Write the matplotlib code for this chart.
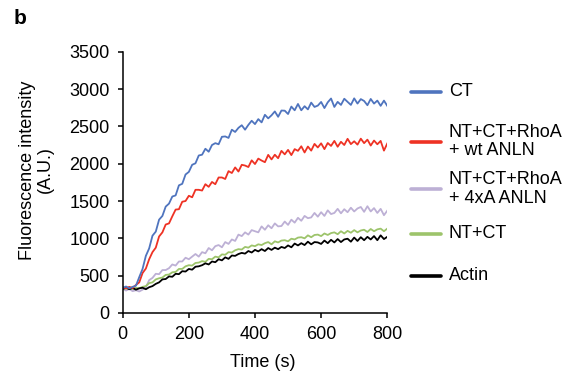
import numpy as np
import matplotlib
matplotlib.use('Agg')
import matplotlib.pyplot as plt
from matplotlib.lines import Line2D

plt.rcParams['font.family'] = ['Liberation Sans', 'DejaVu Sans']

# time points (s), one reading every 10 s
time = np.arange(0, 801, 10)

ct = [335, 355, 330, 350, 365, 480, 590, 765, 865, 1035,
      1090, 1250, 1300, 1425, 1465, 1560, 1575, 1710, 1730, 1855,
      1890, 1985, 2005, 2110, 2120, 2200, 2160, 2250, 2275, 2260,
      2360, 2365, 2345, 2455, 2425, 2480, 2515, 2455, 2520, 2575,
      2530, 2597, 2553, 2655, 2607, 2648, 2700, 2628, 2712, 2710,
      2665, 2765, 2715, 2800, 2715, 2770, 2727, 2818, 2760, 2778,
      2827, 2745, 2822, 2873, 2760, 2828, 2787, 2870, 2828, 2787,
      2875, 2805, 2865, 2840, 2783, 2867, 2805, 2845, 2775, 2845,
      2775]

wt_anln = [345, 330, 350, 335, 375, 410, 535, 595, 720, 815,
           875, 1025, 1080, 1185, 1200, 1295, 1385, 1390, 1490, 1500,
           1570, 1550, 1650, 1650, 1640, 1725, 1690, 1755, 1725, 1815,
           1815, 1795, 1900, 1875, 1950, 1895, 1985, 1975, 1955, 2045,
           1995, 2068, 2042, 2020, 2118, 2057, 2120, 2073, 2172, 2125,
           2185, 2115, 2195, 2172, 2233, 2150, 2230, 2175, 2265, 2217,
           2273, 2195, 2277, 2238, 2305, 2227, 2293, 2250, 2333, 2262,
           2300, 2255, 2335, 2275, 2322, 2243, 2310, 2260, 2305, 2175,
           2270]

xa_anln = [325, 300, 322, 292, 305, 288, 312, 345, 440, 470,
           525, 520, 575, 575, 600, 650, 635, 690, 690, 740,
           720, 755, 790, 755, 815, 800, 870, 840, 895, 910,
           880, 950, 925, 985, 965, 1050, 1030, 1080, 1050, 1110,
           1095, 1080, 1160, 1115, 1175, 1135, 1200, 1160, 1165, 1225,
           1180, 1250, 1210, 1275, 1235, 1300, 1270, 1280, 1340, 1290,
           1350, 1300, 1375, 1325, 1340, 1395, 1335, 1390, 1350, 1410,
           1360, 1400, 1420, 1355, 1430, 1360, 1405, 1340, 1395, 1310,
           1370]

nt_ct = [335, 325, 338, 322, 336, 330, 350, 360, 400, 410,
         450, 465, 475, 510, 515, 545, 550, 590, 590, 625,
         640, 635, 670, 675, 695, 685, 725, 720, 755, 745,
         785, 780, 815, 810, 840, 855, 850, 885, 875, 905,
         895, 920, 910, 935, 950, 920, 960, 945, 970, 975,
         960, 995, 985, 1010, 1015, 1000, 1040, 1015, 1045, 1050,
         1030, 1065, 1045, 1070, 1080, 1055, 1095, 1065, 1100, 1075,
         1110, 1080, 1105, 1115, 1085, 1125, 1095, 1120, 1130, 1095,
         1130]

actin = [320, 340, 318, 335, 312, 330, 338, 318, 345, 360,
         390, 410, 450, 455, 490, 485, 525, 520, 560, 555,
         590, 580, 620, 625, 640, 665, 650, 690, 680, 720,
         705, 745, 725, 770, 765, 790, 805, 795, 830, 810,
         845, 825, 855, 830, 870, 845, 875, 855, 885, 870,
         905, 880, 930, 905, 935, 910, 955, 920, 950, 945,
         925, 970, 935, 980, 945, 990, 950, 985, 995, 955,
         1010, 965, 1015, 975, 1020, 985, 1030, 975, 1040, 990,
         1020]

names = ['CT', 'NT+CT+RhoA\n+ wt ANLN', 'NT+CT+RhoA\n+ 4xA ANLN', 'NT+CT', 'Actin']
colors = ['#4F74BE', '#EE3224', '#BDB0D5', '#9DC46B', '#000000']
series = [ct, wt_anln, xa_anln, nt_ct, actin]

fig = plt.figure(figsize=(5.78, 3.76), dpi=100)
ax = fig.add_axes([0.2123, 0.1676, 0.4577, 0.6949])

# draw the low curves first, CT last so it sits on top
for idx in [2, 3, 4, 1, 0]:
    ax.plot(time, series[idx], color=colors[idx], lw=1.3)

ax.set_xlim(0, 800)
ax.set_ylim(0, 3500)
ax.set_xticks([0, 200, 400, 600, 800])
ax.set_yticks(range(0, 3501, 500))
for side in ['top', 'right']:
    ax.spines[side].set_visible(False)
for side in ['left', 'bottom']:
    ax.spines[side].set_linewidth(1.1)
ax.tick_params(direction='out', length=3.5, width=1.1, pad=6, labelsize=13)

fig.text(0.455, 0.037, 'Time (s)', ha='center', va='center', fontsize=13)
fig.text(0.063, 0.548, 'Fluorescence intensity\n(A.U.)', ha='center', va='center',
         rotation=90, fontsize=13, linespacing=1.1)
fig.text(0.024, 0.952, 'b', ha='left', va='center', fontsize=15, fontweight='bold')

# legend drawn by hand to get the uneven spacing of the original
legend_y = [91.7, 141.7, 189.0, 234.0, 276.0]
for name, col, ypx in zip(names, colors, legend_y):
    yf = 1 - ypx / 376
    fig.add_artist(Line2D([411 / 578, 441 / 578], [yf, yf], color=col, lw=2.6,
                          solid_capstyle='round'))
    fig.text(449 / 578, yf, name, ha='left', va='center', fontsize=13, linespacing=1.1)

fig.savefig('out.png', dpi=100)
